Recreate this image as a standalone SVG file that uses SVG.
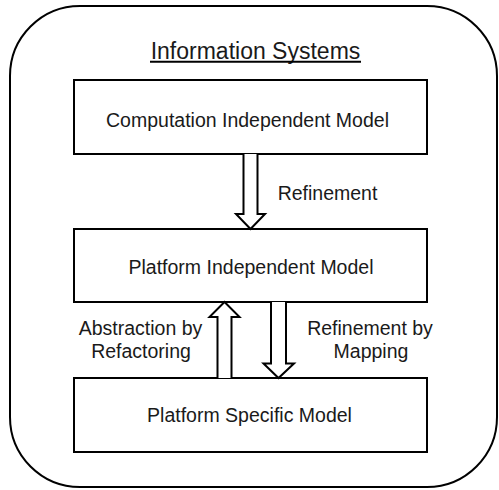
<svg xmlns="http://www.w3.org/2000/svg" width="499" height="490" viewBox="0 0 499 490">
<style>
.box{fill:#fff;stroke:#000;stroke-width:2}
.arr{fill:#fff;stroke:#000;stroke-width:2;stroke-linejoin:miter}
text{font-family:"Liberation Sans",Arial,sans-serif;fill:#1a1a1a}
.t{font-size:19.5px;text-anchor:middle}
</style>
<rect width="499" height="490" fill="#fff"/>
<g id="container">
<rect x="10" y="6" width="487" height="481" rx="70" ry="70" fill="#fff" stroke="#000" stroke-width="2"/>
<text x="255.5" y="59" font-size="23" text-anchor="middle">Information Systems</text>
<line x1="150" y1="61.8" x2="361" y2="61.8" stroke="#000" stroke-width="2"/>
</g>
<g id="cim">
<rect class="box" x="74" y="80" width="353" height="74"/>
<text class="t" x="247.5" y="126.5">Computation Independent Model</text>
</g>
<g id="pim">
<rect class="box" x="74" y="229" width="353" height="73"/>
<text class="t" x="251" y="274">Platform Independent Model</text>
</g>
<g id="psm">
<rect class="box" x="74" y="378" width="353" height="74"/>
<text class="t" x="249.5" y="421.5">Platform Specific Model</text>
</g>
<g id="connectors">
<path class="arr" d="M243.5,154 V214 H236 L250.5,229 L265,214 H257.5 V154"/>
<text class="t" x="327.5" y="200" text-anchor="middle">Refinement</text>
<path class="arr" d="M217.5,378 V317 H209.5 L224.5,302 L239.5,317 H231.5 V378"/>
<text class="t" x="140.5" y="335">Abstraction by</text>
<text class="t" x="141" y="358">Refactoring</text>
<path class="arr" d="M271,302 V363.5 H263.5 L278.5,378 L294,363.5 H286 V302"/>
<text class="t" x="370" y="335">Refinement by</text>
<text class="t" x="371" y="358">Mapping</text>
</g>
</svg>
